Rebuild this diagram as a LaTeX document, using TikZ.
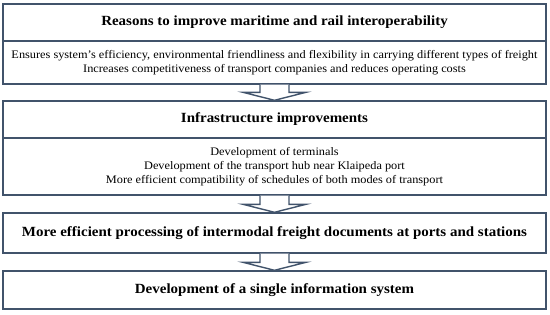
\documentclass[tikz,border=0pt]{standalone}
\usepackage{fontspec}
\setmainfont[FakeStretch=1.07]{Liberation Serif}
\usetikzlibrary{calc}
\definecolor{bc}{HTML}{41536B}
\tikzset{
  box/.style={draw=bc, line width=1.4pt, minimum width=543pt, inner sep=0pt, align=center, fill=white},
  ttl/.style={box, font=\fontsize{14}{16}\selectfont\bfseries},
  bdy/.style={box, font=\fontsize{11.5}{14}\selectfont},
  arr/.style={draw=bc, line width=1.4pt, fill=white, line join=miter}
}
\newcommand{\blockarrow}[2]{%
  \draw[arr] ($(#1.south)+(-14.5,0)$) -- ($(#2.north)+(-14.5,-8)$) -- ($(#2.north)+(-31.5,-8)$) -- (#2.north) -- ($(#2.north)+(31.5,-8)$) -- ($(#2.north)+(14.5,-8)$) -- ($(#1.south)+(14.5,0)$);}
\begin{document}
\begin{tikzpicture}[x=1pt,y=-1pt]
\useasboundingbox (0,0) rectangle (550,314);
\node[ttl, minimum height=37pt] (h1) at (274.5,22.5) {Reasons to improve maritime and rail interoperability};
\node[bdy, minimum height=43pt] (b1) at (274.5,62.5) {Ensures system's efficiency, environmental friendliness and flexibility in carrying different types of freight\\Increases competitiveness of transport companies and reduces operating costs};
\node[ttl, minimum height=37pt] (h2) at (274.5,119.5) {Infrastructure improvements};
\node[bdy, minimum height=57pt] (b2) at (274.5,166.5) {Development of terminals\\Development of the transport hub near Klaipeda port\\More efficient compatibility of schedules of both modes of transport};
\node[ttl, minimum height=40pt] (h3) at (274.5,233) {More efficient processing of intermodal freight documents at ports and stations};
\node[ttl, minimum height=38pt] (h4) at (274.5,290) {Development of a single information system};
\blockarrow{b1}{h2}
\blockarrow{b2}{h3}
\blockarrow{h3}{h4}
\end{tikzpicture}
\end{document}
